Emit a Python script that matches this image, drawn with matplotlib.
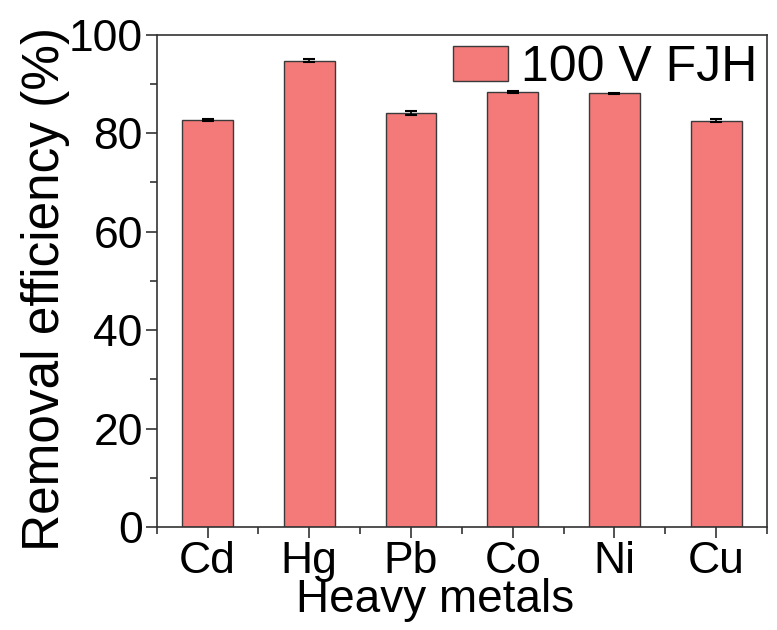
import numpy as np
from matplotlib import pyplot as plt

metals = ['Cd', 'Hg', 'Pb', 'Co', 'Ni', 'Cu']
efficiency = [82.7, 94.7, 84.1, 88.4, 88.1, 82.5]
errors = [0.15, 0.3, 0.5, 0.2, 0.15, 0.3]
legend_label = '100 V FJH'

plt.rcParams['font.family'] = ['Liberation Sans', 'DejaVu Sans']

fig = plt.figure(figsize=(7.77, 6.3), dpi=100)
ax = fig.add_axes([0.2017, 0.1635, 0.7854, 0.7814])

x = np.arange(len(metals))
ax.bar(x, efficiency, width=0.5, color='#f47a7a', edgecolor='#3a3a3a',
       linewidth=1.0, label=legend_label,
       yerr=errors, error_kw=dict(ecolor='black', elinewidth=1.2,
                                  capsize=4, capthick=1.5))

ax.set_xlim(-0.5, 5.5)
ax.set_ylim(0, 100)
ax.set_xticks(x)
ax.set_xticklabels(metals)
ax.set_xticks(np.arange(-0.5, 5.6, 1.0), minor=True)
ax.set_yticks(np.arange(0, 101, 20))
ax.set_yticks(np.arange(10, 100, 20), minor=True)

for s in ax.spines.values():
    s.set_linewidth(1.2)
    s.set_color('#333333')

ax.tick_params(axis='both', which='major', direction='out', length=8,
               width=1.2, color='#333333', labelsize=32, pad=2)
ax.tick_params(axis='both', which='minor', direction='out', length=5,
               width=1.2, color='#333333')

ax.set_xlabel('Heavy metals', fontsize=33)
ax.xaxis.set_label_coords(0.456, -0.104)
ax.set_ylabel('Removal efficiency (%)', fontsize=37)
ax.yaxis.set_label_coords(-0.142, 0.483)

ax.legend(loc='upper right', bbox_to_anchor=(1.0, 1.0), frameon=False,
          fontsize=36, handlelength=1.1, handleheight=0.7,
          handletextpad=0.25, borderaxespad=0.0, borderpad=0.2)

fig.savefig('out.png', dpi=100)
